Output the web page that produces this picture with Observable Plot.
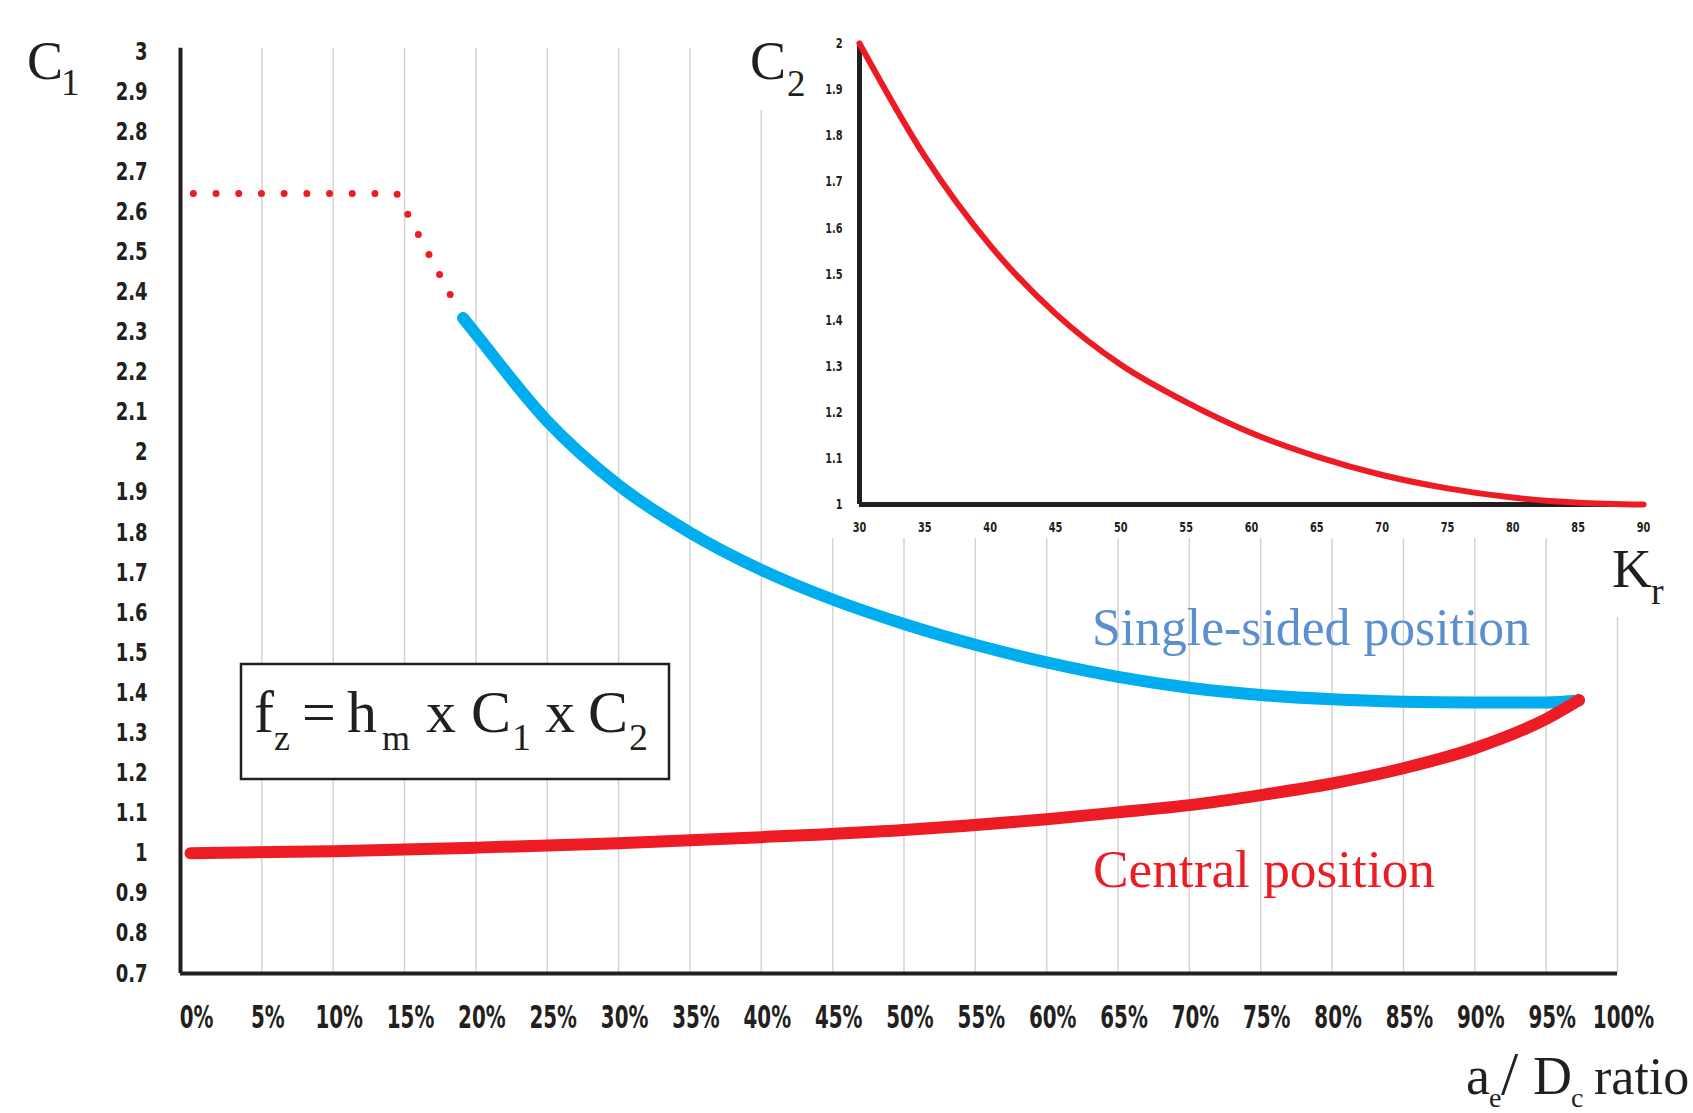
<!DOCTYPE html>
<html><head><meta charset="utf-8">
<script src="https://cdn.jsdelivr.net/npm/d3@7"></script>
<script src="https://cdn.jsdelivr.net/npm/@observablehq/plot@0.6"></script>
<style>
html,body{margin:0;padding:0;background:#fff;overflow:hidden}
#wrap{position:relative;width:1693px;height:1113px;background:#fff}
#wrap svg{position:absolute;left:0;top:0;max-width:none}
#inset{position:absolute;left:800px;top:0;width:893px;height:538px;background:#fff}
#inset svg{position:static}
</style></head><body><div id="wrap"><div id="mainHolder"></div><div id="inset"></div></div>
<script>
// ---------- data ----------
const xTicks = [0,5,10,15,20,25,30,35,40,45,50,55,60,65,70,75,80,85,90,95,100];
const gridX = [5,10,15,20,25,30,35,40,45,50,55,60,65,70,75,80,85,90,95,100];
const yTicks = [0.7,0.8,0.9,1,1.1,1.2,1.3,1.4,1.5,1.6,1.7,1.8,1.9,2,2.1,2.2,2.3,2.4,2.5,2.6,2.7,2.8,2.9,3];

// dotted transition (C1)
const transitionPct = [0.2, 14.45, 18.8];
const transitionC1  = [2.646, 2.646, 2.353];

// Single-sided position (C1)
const singlePct = [19.1, 20, 25, 30, 35, 40, 45, 50, 55, 60, 65, 70, 75, 80, 85, 90, 95, 97.3];
const singleC1  = [2.335, 2.295, 2.078, 1.918, 1.80, 1.707, 1.633, 1.572, 1.52, 1.476, 1.44, 1.413, 1.395, 1.384, 1.378, 1.376, 1.376, 1.381];

// Central position (C1)
const centralPct = [0, 10, 20, 30, 40, 50, 60, 65, 70, 75, 80, 85, 90, 95, 97.3];
const centralC1  = [1.0, 1.005, 1.014, 1.025, 1.04, 1.058, 1.085, 1.102, 1.12, 1.145, 1.174, 1.212, 1.262, 1.335, 1.382];

// Inset: C2 vs Kr
const insetXTicks = [30,35,40,45,50,55,60,65,70,75,80,85,90];
const insetYTicks = [1,1.1,1.2,1.3,1.4,1.5,1.6,1.7,1.8,1.9,2];
const krDeg = [30, 35, 40, 45, 50, 55, 60, 65, 70, 75, 80, 85, 90];
const c2Val = [2.0, 1.755, 1.562, 1.414, 1.303, 1.222, 1.155, 1.104, 1.064, 1.035, 1.015, 1.004, 1.0];

// ---------- styles ----------
const RED = "#ed1c24", BLUE = "#00aeef", INK = "#231f20", GRID = "#d4d4d4", LABELBLUE = "#5b8fd0";
const COND = "'Liberation Sans Narrow','DejaVu Sans Condensed','Arial Narrow',sans-serif";
const SERIF = "'Liberation Serif','Times New Roman',serif";

const zip = (xs, ys) => xs.map((x, i) => ({x, y: ys[i]}));
const transitionData = zip(transitionPct, transitionC1);
const singleData = zip(singlePct, singleC1);
const centralData = zip(centralPct, centralC1);
const c2Data = zip(krDeg, c2Val);

const W = 1693, H = 1113;

// squeeze tick labels horizontally (condensed display face)
function squeeze(svg, selector, sx) {
  svg.querySelectorAll(selector).forEach(t => {
    let tr = t.getAttribute("transform");
    if (!tr) {
      const x = t.getAttribute("x") || 0, y = t.getAttribute("y") || 0;
      t.removeAttribute("x"); t.removeAttribute("y");
      tr = `translate(${x},${y})`;
    }
    t.setAttribute("transform", tr + ` scale(${sx},1)`);
  });
}

const main = Plot.plot({
  width: W, height: H,
  marginLeft: 180, marginRight: 76, marginTop: 51, marginBottom: 140,
  x: {domain: [-0.7, 100], label: null},
  y: {domain: [0.7, 3], label: null},
  style: {fontFamily: COND, fontWeight: "bold", color: INK, background: "white"},
  marks: [
    Plot.ruleX(gridX, {y1: 0.7, y2: 3.008, stroke: GRID, strokeWidth: 1.5}),
    Plot.axisY(yTicks, {tickSize: 0, tickPadding: 33, fontSize: 25, tickFormat: d => String(d)}),
    Plot.axisX(xTicks, {tickSize: 0, tickPadding: 32, dx: 6, fontSize: 32, tickFormat: d => d + "%"}),
    Plot.line(transitionData, {x: "x", y: "y", stroke: RED, strokeWidth: 7, strokeDasharray: "0 22.7", strokeLinecap: "round", strokeLinejoin: "round"}),
    Plot.line(singleData, {x: "x", y: "y", stroke: BLUE, strokeWidth: 12, curve: "monotone-x", strokeLinecap: "round"}),
    Plot.line(centralData, {x: "x", y: "y", stroke: RED, strokeWidth: 12, curve: "monotone-x", strokeLinecap: "round"}),
    Plot.ruleX([-0.7], {y1: 0.7, y2: 3.008, stroke: INK, strokeWidth: 4}),
    Plot.ruleY([0.7], {x1: -0.7, x2: 100, stroke: INK, strokeWidth: 4})
  ]
});
squeeze(main, 'g[aria-label="y-axis tick label"] text', 0.8);
squeeze(main, 'g[aria-label="x-axis tick label"] text', 0.69);
document.getElementById("mainHolder").appendChild(main);

const inset = Plot.plot({
  width: 893, height: 538,
  marginLeft: 59, marginRight: 50, marginTop: 43, marginBottom: 34,
  x: {domain: [30, 90], label: null},
  y: {domain: [1, 2], label: null},
  style: {fontFamily: COND, fontWeight: "bold", color: INK, background: "white"},
  marks: [
    Plot.axisY(insetYTicks, {tickSize: 0, tickPadding: 17, fontSize: 14.5, tickFormat: d => String(d)}),
    Plot.axisX(insetXTicks, {tickSize: 0, tickPadding: 17, fontSize: 14.5, tickFormat: d => String(d)}),
    Plot.ruleY([1], {x1: 30, x2: 90, stroke: INK, strokeWidth: 5}),
    Plot.ruleX([30], {y1: 1, y2: 2, stroke: INK, strokeWidth: 5}),
    Plot.line(c2Data, {x: "x", y: "y", stroke: RED, strokeWidth: 6, curve: "monotone-x"})
  ]
});
squeeze(inset, 'g[aria-label$="tick label"] text', 0.75);
document.getElementById("inset").appendChild(inset);

// ---------- annotation overlay ----------
const ov = d3.select("#wrap").append("svg")
  .attr("width", W).attr("height", H)
  .style("pointer-events", "none")
  .style("font-family", SERIF);

// white boxes behind axis titles
ov.append("rect").attr("x", 740).attr("y", 0).attr("width", 70).attr("height", 110).attr("fill", "white");
ov.append("rect").attr("x", 1560).attr("y", 538).attr("width", 133).attr("height", 79).attr("fill", "white");

function subLabel(parts) {
  const t = ov.append("text").attr("fill", INK);
  for (const p of parts) {
    t.append("tspan").attr("x", p.x).attr("y", p.y).attr("font-size", p.s).text(p.t);
  }
  return t;
}
// C1
subLabel([{t: "C", x: 27, y: 79, s: 54}, {t: "1", x: 61, y: 95, s: 37}]);
// C2
subLabel([{t: "C", x: 750, y: 79, s: 54}, {t: "2", x: 787, y: 96, s: 37}]);
// Kr
subLabel([{t: "K", x: 1612, y: 587, s: 55}, {t: "r", x: 1651, y: 604, s: 38}]);
// ae/Dc ratio
subLabel([
  {t: "a", x: 1466, y: 1094, s: 54}, {t: "e", x: 1489, y: 1107, s: 28},
  {t: "/", x: 1501, y: 1094, s: 62}, {t: "D", x: 1533, y: 1094, s: 54},
  {t: "c", x: 1571, y: 1107, s: 28}, {t: "ratio", x: 1594, y: 1094, s: 52}
]);

// series labels
ov.append("text").attr("x", 1092).attr("y", 645).attr("font-size", 52).attr("fill", LABELBLUE)
  .attr("textLength", 438).attr("lengthAdjust", "spacingAndGlyphs").text("Single-sided position");
ov.append("text").attr("x", 1093).attr("y", 887).attr("font-size", 52).attr("fill", RED)
  .attr("textLength", 342).attr("lengthAdjust", "spacingAndGlyphs").text("Central position");

// formula box
ov.append("rect").attr("x", 241).attr("y", 664).attr("width", 428).attr("height", 115)
  .attr("fill", "white").attr("stroke", INK).attr("stroke-width", 2.5);
subLabel([
  {t: "f", x: 254, y: 732, s: 60}, {t: "z", x: 274, y: 750, s: 36},
  {t: "=", x: 302, y: 732, s: 60},
  {t: "h", x: 347, y: 732, s: 60}, {t: "m", x: 382, y: 750, s: 36},
  {t: "x", x: 426, y: 732, s: 60},
  {t: "C", x: 471, y: 732, s: 60}, {t: "1", x: 512, y: 750, s: 38},
  {t: "x", x: 545, y: 732, s: 60},
  {t: "C", x: 588, y: 732, s: 60}, {t: "2", x: 629, y: 750, s: 38}
]);
</script></body></html>
